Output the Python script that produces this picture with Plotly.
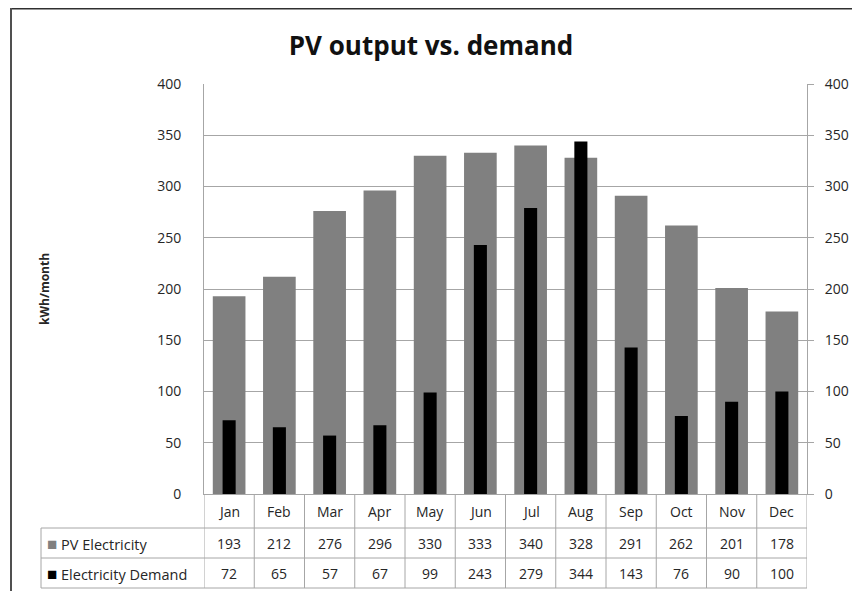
import plotly.graph_objects as go

months = ["Jan", "Feb", "Mar", "Apr", "May", "Jun", "Jul", "Aug", "Sep", "Oct", "Nov", "Dec"]
pv_electricity = [193, 212, 276, 296, 330, 333, 340, 328, 291, 262, 201, 178]
electricity_demand = [72, 65, 57, 67, 99, 243, 279, 344, 143, 76, 90, 100]
series_names = ["PV Electricity", "Electricity Demand"]
series_colors = ["#808080", "#000000"]
y_ticks = [0, 50, 100, 150, 200, 250, 300, 350, 400]

# page body has an 8px margin, so the figure is shrunk and positions shifted
OFF = 8
W, H = 860 - OFF, 591 - OFF
FONT = "Open Sans"
TXT = "#262626"
GRID = "#a6a6a6"


def px_(x):
    return (x - OFF) / W


def py(y):
    return 1 - (y - OFF) / H


plot_left, plot_right, plot_top, plot_bottom = 204, 807, 84, 494
row_lines = [494, 528, 558, 588]

fig = go.Figure()
fig.add_trace(go.Bar(x=list(range(12)), y=pv_electricity, name=series_names[0],
                     marker=dict(color=series_colors[0], line=dict(width=0)),
                     width=0.65, yaxis="y"))
fig.add_trace(go.Bar(x=list(range(12)), y=electricity_demand, name=series_names[1],
                     marker=dict(color=series_colors[1], line=dict(width=0)),
                     width=0.26, yaxis="y2"))

shapes = []
# data table lines
for i in range(13):
    shapes.append(dict(type="line", xref="x", yref="paper", x0=i - 0.5, x1=i - 0.5,
                       y0=py(row_lines[0]), y1=py(row_lines[-1]),
                       line=dict(color=GRID, width=1)))
for r in row_lines[1:]:
    shapes.append(dict(type="line", xref="paper", yref="paper", x0=px_(41), x1=px_(plot_right),
                       y0=py(r), y1=py(r), line=dict(color=GRID, width=1)))
shapes.append(dict(type="line", xref="paper", yref="paper", x0=px_(41), x1=px_(41),
                   y0=py(row_lines[1]), y1=py(row_lines[-1]), line=dict(color=GRID, width=1)))
# chart frame
shapes.append(dict(type="line", xref="paper", yref="paper", x0=px_(10), x1=1,
                   y0=py(8.5), y1=py(8.5), line=dict(color="#303030", width=2)))
shapes.append(dict(type="line", xref="paper", yref="paper", x0=px_(11), x1=px_(11),
                   y0=0, y1=py(8), line=dict(color="#505050", width=2)))

annotations = []
row_mid = [(row_lines[k] + row_lines[k + 1]) / 2 for k in range(3)]
cell = dict(xref="x", yref="paper", xanchor="center", yanchor="middle", showarrow=False,
            font=dict(size=14, color=TXT))
for i, m in enumerate(months):
    annotations.append(dict(x=i, y=py(row_mid[0]), text=m, **cell))
    annotations.append(dict(x=i, y=py(row_mid[1]), text=str(pv_electricity[i]), **cell))
    annotations.append(dict(x=i, y=py(row_mid[2]), text=str(electricity_demand[i]), **cell))
for k, (nm, col) in enumerate(zip(series_names, series_colors)):
    annotations.append(dict(x=px_(45), y=py(row_mid[k + 1]), xref="paper", yref="paper",
                            xanchor="left", yanchor="middle", showarrow=False,
                            text=f"<span style='color:{col};font-size:17px'>■</span> {nm}",
                            font=dict(size=14.5, color=TXT)))
annotations.append(dict(x=px_(44), y=py((plot_top + plot_bottom) / 2), xref="paper", yref="paper",
                        xanchor="center", yanchor="middle",
                        text="<b>kWh/month</b>", textangle=-90, showarrow=False,
                        font=dict(size=12, color=TXT)))

yaxis_common = dict(range=[0, 400], tickvals=y_ticks, showgrid=True, gridcolor=GRID,
                    showline=True, linecolor=GRID, linewidth=1, zeroline=False,
                    tickfont=dict(size=14, color=TXT, family=FONT),
                    domain=[py(plot_bottom), py(plot_top)], fixedrange=True)

fig.update_layout(
    template="none",
    width=W, height=H,
    margin=dict(l=0, r=0, t=0, b=0),
    paper_bgcolor="white", plot_bgcolor="white",
    font=dict(family=FONT, color=TXT),
    barmode="overlay",
    showlegend=False,
    title=dict(text="<b>PV output vs. demand</b>", x=px_(431), xanchor="center",
               y=py(46), yanchor="middle", font=dict(size=26, color="#111111", family=FONT)),
    xaxis=dict(range=[-0.5, 11.5], domain=[px_(plot_left), px_(plot_right)],
               showticklabels=False, showgrid=False, showline=True, linecolor=GRID,
               ticks="", zeroline=False, fixedrange=True),
    yaxis=dict(**yaxis_common, side="left", ticks="", ticklabelstandoff=19),
    yaxis2=dict(**yaxis_common, side="right", overlaying="y", ticks="outside",
                ticklen=6, tickcolor=GRID, ticklabelstandoff=8),
    shapes=shapes,
    annotations=annotations,
)

fig.write_html("out.html")
